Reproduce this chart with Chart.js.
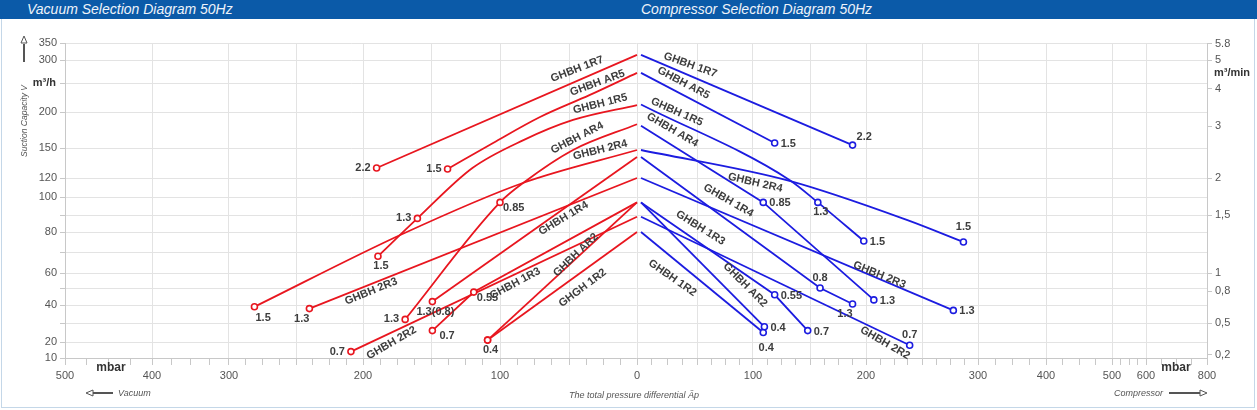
<!DOCTYPE html>
<html>
<head>
<meta charset="utf-8">
<title>Vacuum / Compressor Selection Diagram 50Hz</title>
<script src="https://cdn.jsdelivr.net/npm/chart.js@4.4.1/dist/chart.umd.min.js"></script>
<style>
  html, body { margin: 0; padding: 0; background: #fff; }
  #wrap { position: relative; width: 1257px; height: 410px; overflow: hidden; font-family: 'Liberation Sans', Arial, sans-serif; }
  #bar { position: absolute; left: 0; top: 0; width: 1257px; height: 19px; background: #0b5aa8; }
  #bar span { position: absolute; top: 1px; color: #eef3fa; font-style: italic; font-size: 14px; line-height: 17px; }
  canvas { position: absolute; left: 0; top: 0; }
</style>
</head>
<body>
<div id="wrap">
  <canvas id="chart" width="1257" height="410"></canvas>
  <div id="bar">
    <span style="left:27px">Vacuum Selection Diagram 50Hz</span>
    <span style="left:641px">Compressor Selection Diagram 50Hz</span>
  </div>
</div>
<script>
// selection diagram 50Hz : vacuum side (red, left) + compressor side (blue, right)

const RED = '#e8161f';
const BLUE = '#1c1ce0';
const INK = '#3d3d3d';
const FONT = '"Liberation Sans", Arial, sans-serif';

// ---- data : [pressure mbar, capacity m3/h, motor kW]
// vacuum pressures are negative so they sit left of 0
const VAC_1R7 = [[-190, 130, '2.2'], [0, 315]];
const VAC_AR5 = [[-138, 129, '1.5'], [-105, 157], [-71, 193], [-35, 229], [0, 272]];
const VAC_1R5 = [[-189, 68, '1.5'], [-160, 88, '1.3'], [-120, 130], [-83, 161], [-47, 189], [0, 212]];
const VAC_AR4 = [[-169, 32, '1.3'], [-100, 97, '0.85'], [-83, 115], [-47, 148], [0, 183]];
const VAC_2R4 = [[-281, 39, '1.5'], [-171, 79], [-83, 115], [0, 148]];
const VAC_1R4 = [[-149, 42, '1.3(0.8)'], [0, 141]];
const VAC_2R3 = [[-240, 38, '1.3'], [0, 120]];
const VAC_1R3 = [[-149, 26, '0.7'], [-119, 47.6, '0.55'], [0, 97]];
const VAC_AR2 = [[-109, 21, '0.4'], [0, 97]];
const VAC_2R2 = [[-209, 14, '0.7'], [0, 89]];
const VAC_1R2 = [[-109, 21, ''], [0, 80]];

const COMP_1R7 = [[0, 315], [188, 154, '2.2']];
const COMP_AR5 = [[0, 272], [119, 157, '1.5']];
const COMP_1R5 = [[0, 213], [132, 118], [157, 97, '1.3'], [198, 75.5, '1.5']];
const COMP_AR4 = [[0, 181], [109, 97, '0.85'], [207, 43, '1.3']];
const COMP_2R4 = [[0, 148], [132, 117], [237, 87], [287, 75, '1.5']];
const COMP_1R4 = [[0, 141], [159, 50, '0.8'], [188, 40.6, '1.3']];
const COMP_2R3 = [[0, 120], [278, 37, '1.3']];
const COMP_1R3 = [[0, 97], [119, 46, '0.55'], [148, 26, '0.7']];
const COMP_AR2 = [[0, 97], [110, 28, '0.4']];
const COMP_2R2 = [[0, 89], [239, 18, '0.7']];
const COMP_1R2 = [[0, 80], [109, 25, '0.4']];

const VAC_NAMES = ['GHBH 1R7', 'GHBH AR5', 'GHBH 1R5', 'GHBH AR4', 'GHBH 2R4', 'GHBH 1R4',
  'GHBH 2R3', 'GHBH 1R3', 'GHBH AR2', 'GHBH 2R2', 'GHGH 1R2'];
const COMP_NAMES = ['GHBH 1R7', 'GHBH AR5', 'GHBH 1R5', 'GHBH AR4', 'GHBH 2R4', 'GHBH 1R4',
  'GHBH 2R3', 'GHBH 1R3', 'GHBH AR2', 'GHBH 2R2', 'GHBH 1R2'];
const VAC_SERIES = [VAC_1R7, VAC_AR5, VAC_1R5, VAC_AR4, VAC_2R4, VAC_1R4, VAC_2R3, VAC_1R3, VAC_AR2, VAC_2R2, VAC_1R2];
const COMP_SERIES = [COMP_1R7, COMP_AR5, COMP_1R5, COMP_AR4, COMP_2R4, COMP_1R4, COMP_2R3, COMP_1R3, COMP_AR2, COMP_2R2, COMP_1R2];

// axis tick labels
const X_TICK_VALUES = [-500, -400, -300, -200, -100, 0, 100, 200, 300, 400, 500, 600, 800];
const X_TICK_LABELS = ['500', '400', '300', '200', '100', '0', '100', '200', '300', '400', '500', '600', '800'];
const Y_TICK_VALUES = [10, 20, 40, 60, 80, 100, 120, 150, 200, 300, 350];
const Y_TICK_LABELS = ['10', '20', '40', '60', '80', '100', '120', '150', '200', '300', '350'];
const Y2_TICK_VALUES = [0.2, 0.5, 0.8, 1, 1.5, 2, 3, 4, 5, 5.8];
const Y2_TICK_LABELS = ['0,2', '0,5', '0,8', '1', '1,5', '2', '3', '4', '5', '5.8'];

// ---- layout / style (not data)
// the printed diagram uses hand made, uneven axes : gridline value -> pixel
const X_GRID = [
  [-500, 65], [-400, 152], [-300, 229], [-250, 296], [-200, 363], [-150, 431], [-100, 500], [-50, 569],
  [0, 637], [50, 697], [100, 753], [150, 810], [200, 866], [250, 922], [300, 978], [400, 1046],
  [500, 1112], [600, 1146], [800, 1207]
];
const XC_GRID = X_GRID.map(g => g[0] === 0 ? [0, 641] : g);
const Y_GRID = [[10, 358], [20, 342], [30, 323], [40, 305], [50, 288], [60, 273], [70, 252], [80, 232],
  [90, 215], [100, 197], [120, 178], [150, 148], [200, 112], [250, 83], [300, 60], [350, 43]];
const Y2_GRID = Y_GRID.map(g => [g[0] / 60, g[1]]);

const VAC_SMOOTH = [false, true, true, true, true, false, false, false, false, false, false];
const COMP_SMOOTH = [false, false, true, false, true, false, false, false, false, false, false];

// name tag : [mbar, m3/h, angle]
const VAC_TAGS = [[-44, 280, -21], [-29, 250, -20], [-27, 214, -14], [-44, 164, -27], [-27, 148, -14],
  [-54, 88, -31], [-194, 48, -22], [-89, 53, -28], [-45, 68.6, -44], [-179, 19.4, -30], [-40, 50, -37]];
const COMP_TAGS = [[44, 289, 20], [38, 250, 28], [32, 200, 24], [28, 175, 30], [102, 115, 13],
  [78, 98, 30], [212, 58.7, 22], [53, 82.4, 32], [93, 52, 45], [217, 19.4, 30], [28, 56.7, 35]];

// where the kW text goes around its marker, in order of the labelled points
const VAC_KW_PLACE = [['l'], ['l'], ['b', 'l'], ['l', 'br'], ['bR'], ['b'], ['bl'], ['rb', 'br'], ['b'], ['l'], []];
const COMP_KW_PLACE = [['ar'], ['r'], ['b', 'r'], ['r', 'r'], ['aa'], ['a', 'bl'], ['r'], ['r', 'r'], ['r'], ['a'], ['bb']];
const PLACE = {
  l: [-6, 0, 'right'], r: [6, 1, 'left'], b: [3, 10, 'center'], bb: [3, 15, 'center'],
  a: [0, -10, 'center'], aa: [0, -15, 'center'], rb: [7, 5, 'left'], br: [3, 6, 'left'],
  bR: [1, 11, 'left'], bl: [0, 10, 'right'], ar: [4, -8, 'left']
};


function label_for( value, values, labels ) {
  const i = values.indexOf( value );
  return i >= 0 ? labels[ i ] : '';
}

function build_x_ticks() {
  const out = [];
  X_GRID.forEach( ( g, i ) => {
    out.push( { value: g[ 0 ], text: label_for( g[ 0 ], X_TICK_VALUES, X_TICK_LABELS ), minor: false } );
    if ( i < X_GRID.length - 1 ) {
      const next = X_GRID[ i + 1 ][ 0 ];
      for ( let k = 1; k < 4; k++ ) {
        out.push( { value: g[ 0 ] + ( next - g[ 0 ] ) * k / 4, text: '', minor: true } );
      }
    }
  } );
  return out;
}

const SCALE_SETUP = {
  x: { grid: X_GRID, ticks: build_x_ticks() },
  xc: { grid: XC_GRID, ticks: [ { value: 0, text: '' } ] },
  y: { grid: Y_GRID, ticks: Y_GRID.map( g => ( { value: g[ 0 ], text: label_for( g[ 0 ], Y_TICK_VALUES, Y_TICK_LABELS ) } ) ) },
  y2: { grid: Y2_GRID, ticks: Y2_TICK_VALUES.map( ( v, i ) => ( { value: v, text: Y2_TICK_LABELS[ i ] } ) ) },
};

// piecewise value -> 0..1 along the axis
function decimal_of( grid, v ) {
  const p0 = grid[ 0 ][ 1 ], pn = grid[ grid.length - 1 ][ 1 ];
  let i = 1;
  while ( i < grid.length - 1 && v > grid[ i ][ 0 ] ) i++;
  const a = grid[ i - 1 ], b = grid[ i ];
  const px = a[ 1 ] + ( v - a[ 0 ] ) / ( b[ 0 ] - a[ 0 ] ) * ( b[ 1 ] - a[ 1 ] );
  return ( px - p0 ) / ( pn - p0 );
}

function value_of( grid, d ) {
  const p0 = grid[ 0 ][ 1 ], pn = grid[ grid.length - 1 ][ 1 ];
  const px = p0 + d * ( pn - p0 );
  const up = pn > p0;
  let i = 1;
  while ( i < grid.length - 1 && ( up ? px > grid[ i ][ 1 ] : px < grid[ i ][ 1 ] ) ) i++;
  const a = grid[ i - 1 ], b = grid[ i ];
  return a[ 0 ] + ( px - a[ 1 ] ) / ( b[ 1 ] - a[ 1 ] ) * ( b[ 0 ] - a[ 0 ] );
}

class BrokenScale extends Chart.LinearScale {
  determineDataLimits() {
    const g = SCALE_SETUP[ this.id ].grid;
    this.min = g[ 0 ][ 0 ];
    this.max = g[ g.length - 1 ][ 0 ];
  }
  buildTicks() {
    this.start = this.min;
    this.end = this.max;
    return SCALE_SETUP[ this.id ].ticks.map( t => Object.assign( {}, t ) );
  }
  generateTickLabels( ticks ) {
    ticks.forEach( t => { t.label = t.text; } );
  }
  getPixelForValue( value ) {
    if ( value === null || isNaN( value ) ) return NaN;
    return this.getPixelForDecimal( decimal_of( SCALE_SETUP[ this.id ].grid, value ) );
  }
  getValueForPixel( pixel ) {
    return value_of( SCALE_SETUP[ this.id ].grid, this.getDecimalForPixel( pixel ) );
  }
}
BrokenScale.id = 'broken';
BrokenScale.defaults = {};
Chart.register( BrokenScale );


function make_dataset( points, color, axis, smooth, place ) {
  return {
    data: points.map( p => ( { x: p[ 0 ], y: p[ 1 ] } ) ),
    kw: points.map( p => p[ 2 ] === undefined ? null : p[ 2 ] ),
    place: place,
    xAxisID: axis,
    yAxisID: 'y',
    borderColor: color,
    borderWidth: 1.8,
    pointRadius: points.map( p => p[ 2 ] === undefined ? 0 : 3 ),
    pointBackgroundColor: '#fff',
    pointBorderColor: color,
    pointBorderWidth: 1.6,
    cubicInterpolationMode: smooth ? 'monotone' : 'default',
    tension: 0,
    fill: false,
  };
}

function draw_tags( chart, names, tags, xs ) {
  const ctx = chart.ctx;
  const ys = chart.scales.y;
  ctx.font = 'bold 11px ' + FONT;
  ctx.fillStyle = INK;
  ctx.textAlign = 'center';
  ctx.textBaseline = 'middle';
  names.forEach( ( name, i ) => {
    const t = tags[ i ];
    ctx.save();
    ctx.translate( xs.getPixelForValue( t[ 0 ] ), ys.getPixelForValue( t[ 1 ] ) );
    ctx.rotate( t[ 2 ] * Math.PI / 180 );
    ctx.fillText( name, 0, 0 );
    ctx.restore();
  } );
}

function draw_kw( chart ) {
  const ctx = chart.ctx;
  ctx.font = 'bold 11px ' + FONT;
  ctx.fillStyle = INK;
  ctx.textBaseline = 'middle';
  chart.data.datasets.forEach( ( ds, i ) => {
    const meta = chart.getDatasetMeta( i );
    let n = 0;
    ds.kw.forEach( ( txt, j ) => {
      if ( txt === null ) return;
      const where = PLACE[ ds.place[ n++ ] ];
      if ( !txt || !where ) return;
      const pt = meta.data[ j ];
      ctx.textAlign = where[ 2 ];
      ctx.fillText( txt, pt.x + where[ 0 ], pt.y + where[ 1 ] );
    } );
  } );
}

function open_head( ctx, x, y, dir ) {
  // small hollow arrow head, dir = 'up' | 'left' | 'right'
  ctx.beginPath();
  if ( dir == 'up' ) {
    ctx.moveTo( x - 3, y + 7 ); ctx.lineTo( x, y ); ctx.lineTo( x + 3, y + 7 );
  } else if ( dir == 'left' ) {
    ctx.moveTo( x + 7, y - 3 ); ctx.lineTo( x, y ); ctx.lineTo( x + 7, y + 3 );
  } else {
    ctx.moveTo( x - 7, y - 3 ); ctx.lineTo( x, y ); ctx.lineTo( x - 7, y + 3 );
  }
  ctx.closePath();
  ctx.fillStyle = '#fff';
  ctx.fill();
  ctx.lineWidth = 1;
  ctx.stroke();
}

function draw_axis_text( chart ) {
  const ctx = chart.ctx;
  const area = chart.chartArea;
  ctx.save();
  ctx.strokeStyle = '#555';
  ctx.fillStyle = '#555';

  // y axis arrow + title
  ctx.lineWidth = 2;
  ctx.beginPath(); ctx.moveTo( 24, area.top + 19 ); ctx.lineTo( 24, area.top + 1 ); ctx.stroke();
  open_head( ctx, 24, area.top - 7, 'up' );
  ctx.save();
  ctx.translate( 25, 121 );
  ctx.rotate( -Math.PI / 2 );
  ctx.fillStyle = '#555';
  ctx.font = 'italic 8.5px ' + FONT;
  ctx.textAlign = 'center';
  ctx.textBaseline = 'middle';
  ctx.fillText( 'Suction Capacity V', 0, 0 );
  ctx.restore();

  // units
  ctx.fillStyle = '#333';
  ctx.font = 'bold 11px ' + FONT;
  ctx.textBaseline = 'middle';
  ctx.textAlign = 'right';
  ctx.fillText( 'm³/h', area.left - 9, chart.scales.y.getPixelForValue( 250 ) );
  ctx.textAlign = 'left';
  ctx.fillText( 'm³/min', area.right + 7, 73 );
  ctx.font = 'bold 12px ' + FONT;
  ctx.textAlign = 'center';
  ctx.fillText( 'mbar', 111, area.bottom + 10 );
  ctx.fillText( 'mbar', 1176, area.bottom + 10 );

  // bottom notes
  const yb = area.bottom + 35;
  ctx.fillStyle = '#555';
  ctx.font = 'italic 9px ' + FONT;
  ctx.textAlign = 'left';
  ctx.fillText( 'Vacuum', 118, yb );
  ctx.textAlign = 'right';
  ctx.fillText( 'Compressor', 1163, yb );
  ctx.textAlign = 'center';
  ctx.fillText( 'The total pressure differential Äp', 634, yb + 2 );

  ctx.lineWidth = 2;
  ctx.beginPath(); ctx.moveTo( 93, yb ); ctx.lineTo( 113, yb ); ctx.stroke();
  open_head( ctx, 86, yb, 'left' );
  ctx.lineWidth = 2;
  ctx.beginPath(); ctx.moveTo( 1169, yb ); ctx.lineTo( 1200, yb ); ctx.stroke();
  open_head( ctx, 1207, yb, 'right' );
  ctx.restore();
}

const annotate = {
  id: 'annotate',
  beforeDraw( chart ) {
    const ctx = chart.ctx;
    ctx.save();
    ctx.fillStyle = '#fff';
    ctx.fillRect( 0, 0, chart.width, chart.height );
    ctx.strokeStyle = '#c4d7e8';
    ctx.lineWidth = 1;
    ctx.strokeRect( 1.5, 18.5, chart.width - 4, chart.height - 21 );
    ctx.restore();
  },
  afterDatasetsDraw( chart ) {
    const ctx = chart.ctx;
    ctx.save();
    draw_tags( chart, VAC_NAMES, VAC_TAGS, chart.scales.x );
    draw_tags( chart, COMP_NAMES, COMP_TAGS, chart.scales.xc );
    draw_kw( chart );
    ctx.restore();
    draw_axis_text( chart );
  }
};

function is_minor( c ) {
  return c.tick && c.tick.minor;
}

function create_chart() {
  const datasets = [];
  VAC_SERIES.forEach( ( s, i ) => datasets.push( make_dataset( s, RED, 'x', VAC_SMOOTH[ i ], VAC_KW_PLACE[ i ] ) ) );
  COMP_SERIES.forEach( ( s, i ) => datasets.push( make_dataset( s, BLUE, 'xc', COMP_SMOOTH[ i ], COMP_KW_PLACE[ i ] ) ) );

  const tick_font = { family: FONT, size: 11 };

  new Chart( document.getElementById( 'chart' ), {
    type: 'line',
    data: { datasets: datasets },
    plugins: [ annotate ],
    options: {
      responsive: false,
      animation: false,
      events: [],
      layout: { padding: { top: 43, left: 0, right: 0, bottom: 0 } },
      plugins: { legend: { display: false }, tooltip: { enabled: false } },
      scales: {
        x: {
          type: 'broken',
          position: 'bottom',
          afterFit: s => { s.height = 52; },
          grid: {
            color: c => is_minor( c ) ? 'rgba(0,0,0,0)' : '#e3e3e3',
            tickColor: '#c8c8c8',
            tickLength: 7,
          },
          border: { color: '#c8c8c8' },
          ticks: { autoSkip: false, maxRotation: 0, minRotation: 0, padding: 4, color: '#555', font: tick_font },
        },
        xc: { type: 'broken', position: 'bottom', display: false },
        y: {
          type: 'broken',
          position: 'left',
          afterFit: s => { s.width = 65; },
          grid: { color: '#e3e3e3', tickColor: '#c8c8c8', tickLength: 5 },
          border: { color: '#c8c8c8' },
          ticks: { autoSkip: false, padding: 3, color: '#555', font: tick_font },
        },
        y2: {
          type: 'broken',
          position: 'right',
          afterFit: s => { s.width = 50; },
          grid: { drawOnChartArea: false, tickColor: '#c8c8c8', tickLength: 5 },
          border: { color: '#c8c8c8' },
          ticks: { autoSkip: false, padding: 3, color: '#555', font: tick_font },
        },
      },
    },
  } );
}

document.addEventListener( 'DOMContentLoaded', function () {
  create_chart();
} );
</script>
</body>
</html>
